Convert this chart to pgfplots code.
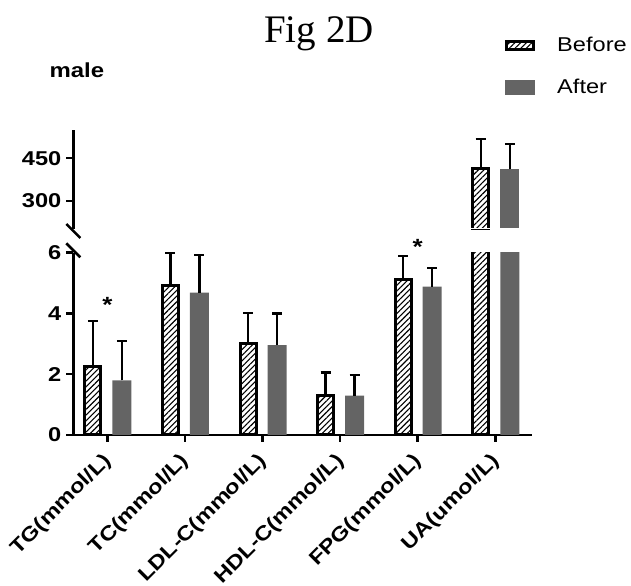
\documentclass[border=0pt]{standalone}
\usepackage{fontspec}
\setmainfont{Liberation Sans}
\newfontfamily\arialx[FakeStretch=1.18]{Liberation Sans}
\newfontfamily\timesf{Liberation Serif}
\usepackage{graphicx}
\usepackage{pgfplots}
\usepackage{pgfplotstable}
\pgfplotsset{compat=1.18}
\usetikzlibrary{patterns.meta}
\definecolor{afterC}{RGB}{100,100,100}
\newcommand\sx[1]{\scalebox{1.18}[1]{#1}}

% xb/xa: bar positions (category -/+ half group offset)
\pgfplotstableread{
x xb xa before berr after aerr
0 -0.187 0.187 2.25 1.50 1.80 1.29
1 0.813 1.187 4.92 1.08 4.69 1.23
2 1.813 2.187 3.02 1.00 2.96 1.04
3 2.813 3.187 1.30 0.75 1.30 0.68
4 3.813 4.187 5.11 0.78 4.88 0.62
5 4.813 5.187 413.5 103.2 411.0 89.0
}\lowdata
\pgfplotstableread{
x xb xa before berr after aerr
5 4.813 5.187 413.5 103.2 411.0 89.0
}\updata

\pgfplotsset{
  errstyle/.style={error bars/y dir=plus, error bars/y explicit,
    error bars/error bar style={line width=2.5bp, black, solid},
    error bars/error mark options={line width=2.5bp, mark size=5bp, black, rotate=90}},
  beforestyle/.style={ybar, bar width=16bp, bar shift=0pt, draw=black, line width=3bp,
    pattern={Lines[angle=45,distance=4bp,line width=1.1bp]}, pattern color=black, errstyle,
    legend image code/.code={\draw[##1] (1.5bp,-4bp) rectangle (28.5bp,4bp);}},
  afterstyle/.style={ybar, bar width=19bp, bar shift=0pt, draw=none, fill=afterC, errstyle,
    legend image code/.code={\fill[##1] (0bp,-7.5bp) rectangle (30bp,7.5bp);}},
  commonaxis/.style={scale only axis, width=458.4bp, anchor=south west,
    xmin=-0.44, xmax=5.47,
    axis line style={line width=2.5bp, -},
    tick align=outside, major tick length=7bp,
    tick style={line width=2.5bp, black},
    /pgf/number format/assume math mode=true,
    tick label style={font=\bfseries\fontsize{20bp}{22bp}\selectfont},
    yticklabel style={xshift=-1.5bp},
    clip mode=individual},
}

\begin{document}
\begin{tikzpicture}
\path[use as bounding box] (0,0) rectangle (631bp,586bp);

\begin{axis}[commonaxis, name=lower, at={(73.3bp,151bp)}, height=182.3bp,
  ymin=0, ymax=6, ytick={0,2,4,6}, yticklabels={\sx{0},\sx{2},\sx{4},\sx{6}},
  axis x line*=bottom, axis y line*=left,
  xtick={0,1,2,3,4,5},
  xticklabels={\sx{TG(mmol/L)},\sx{TC(mmol/L)},\sx{LDL-C(mmol/L)},\sx{HDL-C(mmol/L)},\sx{FPG(mmol/L)},\sx{UA(umol/L)}},
  xticklabel style={yshift=-16bp, xshift=1bp, rotate=45, anchor=east, inner sep=0pt},
  legend style={draw=none, fill=none, at={(0.9418,2.183)}, anchor=north west,
    inner sep=0pt, row sep=26bp, font=\arialx\fontsize{20bp}{22bp}\selectfont,
    nodes={inner sep=0pt},
    /tikz/every odd column/.append style={column sep=22bp}},
  legend cell align=left,
]
\addplot[beforestyle] table[x=xb, y=before, y error=berr] {\lowdata};
\addlegendentry{Before}
\addplot[afterstyle] table[x=xa, y=after, y error=aerr] {\lowdata};
\addlegendentry{After}
\node[font=\bfseries\fontsize{22bp}{24bp}\selectfont, anchor=base] at (axis cs:0,4.03) {\sx{*}};
\node[font=\bfseries\fontsize{22bp}{24bp}\selectfont, anchor=base] at (axis cs:4,5.95) {\sx{*}};
\end{axis}

\begin{axis}[commonaxis, name=upper, at={(73.3bp,356.6bp)}, height=99.7bp,
  ymin=200, ymax=550, ytick={300,450}, yticklabels={\sx{300},\sx{450}},
  axis x line=none, axis y line*=left,
]
\addplot[beforestyle] table[x=xb, y=before, y error=berr] {\updata};
\addplot[afterstyle] table[x=xa, y=after, y error=aerr] {\updata};
\end{axis}
\fill[white] ([xshift=1.3bp]upper.south west) rectangle ([yshift=1.6bp]upper.south east);

\draw[line width=2.5bp] (upper.south west) ++(-7bp,5.4bp) -- ++(14bp,-14bp);
\draw[line width=2.5bp] (lower.north west) ++(-7bp,9.4bp) -- ++(14bp,-14bp);

\node[font=\timesf\fontsize{39bp}{42bp}\selectfont, anchor=base] at (319bp,543.3bp) {Fig 2D};
\node[font=\bfseries\fontsize{20.3bp}{22bp}\selectfont, anchor=base west, inner sep=0pt] at (49.3bp,508.7bp) {\sx{male}};
\end{tikzpicture}
\end{document}
